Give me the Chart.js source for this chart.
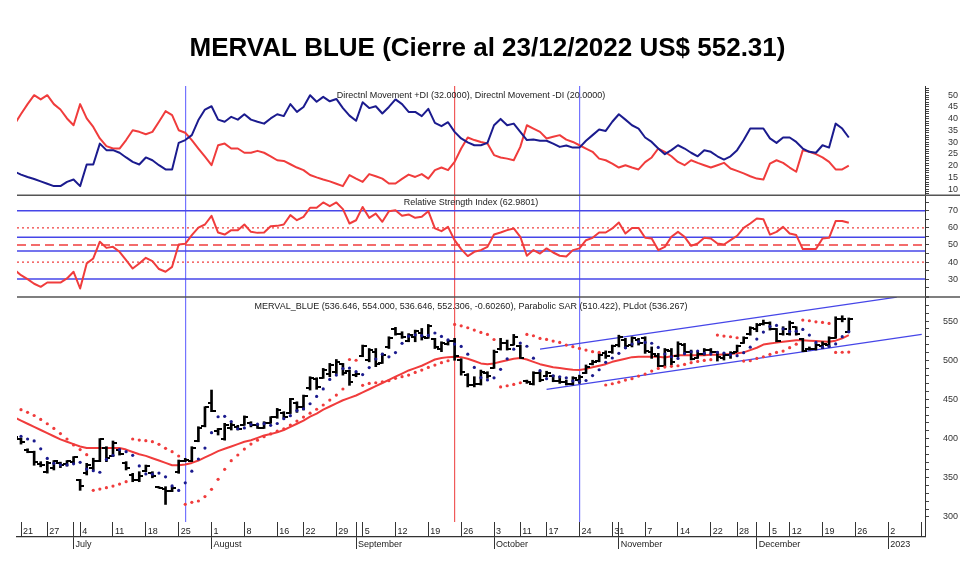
<!DOCTYPE html>
<html><head><meta charset="utf-8">
<script src="https://cdn.jsdelivr.net/npm/chart.js@4.4.1/dist/chart.umd.min.js"></script>
<style>html,body{margin:0;padding:0;background:#fff;}canvas{display:block;}</style>
</head><body>
<canvas id="c" width="980" height="562"></canvas>
<script>
// ---------- DATA (trading days, index 0 = 2022-06-16) ----------
const dates = ['2022-06-16','2022-06-21','2022-06-22','2022-06-23','2022-06-24','2022-06-27','2022-06-28','2022-06-29','2022-06-30','2022-07-01',
'2022-07-04','2022-07-05','2022-07-06','2022-07-07','2022-07-08','2022-07-11','2022-07-12','2022-07-13','2022-07-14','2022-07-15',
'2022-07-18','2022-07-19','2022-07-20','2022-07-21','2022-07-22','2022-07-25','2022-07-26','2022-07-27','2022-07-28','2022-07-29',
'2022-08-01','2022-08-02','2022-08-03','2022-08-04','2022-08-05','2022-08-08','2022-08-09','2022-08-10','2022-08-11','2022-08-12',
'2022-08-16','2022-08-17','2022-08-18','2022-08-19','2022-08-22','2022-08-23','2022-08-24','2022-08-25','2022-08-26','2022-08-29',
'2022-08-30','2022-08-31','2022-09-01','2022-09-05','2022-09-06','2022-09-07','2022-09-08','2022-09-09','2022-09-12','2022-09-13',
'2022-09-14','2022-09-15','2022-09-16','2022-09-19','2022-09-20','2022-09-21','2022-09-22','2022-09-23','2022-09-26','2022-09-27',
'2022-09-28','2022-09-29','2022-09-30','2022-10-03','2022-10-04','2022-10-05','2022-10-06','2022-10-11','2022-10-12','2022-10-13',
'2022-10-14','2022-10-17','2022-10-18','2022-10-19','2022-10-20','2022-10-21','2022-10-24','2022-10-25','2022-10-26','2022-10-27',
'2022-10-28','2022-10-31','2022-11-01','2022-11-02','2022-11-03','2022-11-04','2022-11-07','2022-11-08','2022-11-09','2022-11-10',
'2022-11-11','2022-11-14','2022-11-15','2022-11-16','2022-11-17','2022-11-18','2022-11-22','2022-11-23','2022-11-24','2022-11-25',
'2022-11-28','2022-11-29','2022-11-30','2022-12-01','2022-12-02','2022-12-05','2022-12-06','2022-12-07','2022-12-12','2022-12-13',
'2022-12-14','2022-12-15','2022-12-16','2022-12-19','2022-12-20','2022-12-21','2022-12-22','2022-12-23'];

const openP = [400,399,386,383,368,358,362,369,367,370, 347,356,362,372,388,378,385,369,354,347,
 359,356,338,336,333,357,372,372,397,416, 445,410,400,414,415,418,420,417,414,420,
 428,433,433,446,440,464,476,478,482,485, 495,486,481,506,500,510,497,517,540,533,
 525,530,535,529,527,514,521,525,500,481, 468,470,484,490,514,522,520,518,473,470,
 484,480,480,474,472,470,475,484,495,499, 509,510,519,526,519,526,528,510,505,493,
 512,506,520,510,503,508,513,510,503,507, 511,522,533,540,546,548,540,533,534,542,
 527,514,514,518,520,529,553,536.646];
const highP = [405,401,387,384,370.6,371,372,370,372,377, 348,368.5,375,400,389.7,397,386.7,370.6,355.7,357.8,
 366.3,357.8,338.7,338.7,338.7,372.7,374.8,389.7,415.2,440.7, 462,413,419.5,420,417,429,421.6,418,421.6,428,
 438.6,434.4,451.4,447,455.6,479,477.7,489.6,496,501, 496,487.5,484.5,519.4,515,515,509,530,542,536.4,
 534,538.5,540.6,545.7,528,523.6,526,528,502,483, 479,487.5,485.4,513,528,525.8,533,519.4,474.7,485.4,
 486,486,481,479,474.7,479,481,494,500,509, 512,519.4,532,528,530,528,530,517,508.8,515,
 515,523.6,521.5,513,511,515,515,511,508.8,511, 519.4,530,542.8,547,551.3,549,540.6,542.8,550,542.8,
 528,517,521.5,523.6,530,555.5,556.8,554];
const lowP = [397,393,382,366,364,356,360,363,365,368, 334,353.6,360,370.6,370.6,377,379,360,345,345,
 357.8,350,336.6,316,332.3,355.7,370.6,370.6,396,415, 434.4,404.6,398,411,411,417,415,413,413,419.5,
 426,426,432,433.5,436.5,462,463,476.9,479,483, 481,468,479,504.5,498,491.8,496,515,532,528,
 523.6,523.6,525.8,528,515,511,519.4,500,481,466, 466,468.4,476.9,489.6,513,513,519.4,502.4,470.5,468.4,
 472.6,479,472.6,470.5,468.4,468.4,470.5,483,494,498, 502.4,508.8,517,515,517,519.4,508.8,502.4,491.8,491.8,
 494,504.5,508.8,500.3,502.4,506.6,508.8,499,500.3,502.4, 510.9,521.5,532,536.4,545,538.5,523.6,532,532,532,
 510.9,513,513,515,517,528,549,536.646];
const closeP = [402,396,383,370,366,369,371,366,371,376, 340,366,371,399,375,395,381,362,347,352,
 365,352,337,333,337,371,373,388,413,440, 435,412,417,418,412,427,417,414,420,427,
 436,428,450,440,454,477,466,488,494,498, 484,472,483,518,513,495,507,529,534,530,
 532,537,530,544,517,522,524,505,485,468, 470,485,480,510,522,515,530,503,472,484,
 475,484,474,472,470,477,479,492,498,507, 505,518,530,518,528,522,512,508,493,513,
 498,521,511,502,508,513,510,504,507,509, 518,528,541,545,548,540,525,540,548,534,
 512,515,519,521,528,553,552.908,552.306];

const sarDots = [441,437,433.5,429.5,424.5,419,413,406.5,399.5,392, 386,379.5,334,335.6,337.4,339.5,342,345.1,399.5,398.2,
 397.4,396.1,392.7,387.6,383.3,377.8,316.2,318.7,320.4,326, 335.3,348,360.8,371.9,379.1,386.7,393,398,402.5,406,
 409.5,412.5,417.3,422.4,427.5,432.5,437.5,442.9,449.2,455.6, 463.3,501,500,468,470.5,471.3,472.6,473.9,476.9,479,
 481.1,484.5,487.5,490.9,493.9,496.9,499.4,545.7,544,541.5, 538.5,535.5,533,526.5,466,467.5,469.2,471.3,533,531.3,
 527.9,526.6,524.5,522.8,519.4,517.3,515.1,513,510.9,510, 468.4,470,472,474.7,476.5,479.8,482.4,486.2,489.6,491.3,
 492.2,493,494.7,496.9,498.5,499.8,500.7,532.1,530.9,530, 528.7,499,499.4,502.4,504.5,507.5,510,511.7,516,520.5,
 551.3,550.4,549.1,548.3,547,510,510.2,510.422];
const plDots = [406,403,399.5,397,387,374.7,368.5,366.6,366.4,367.8, 369.8,361.2,359,357.1,373.5,378.7,386,383.4,378.7,365.2,
 355,354.6,356,351.2,339.6,333.9,343.6,358.4,374,387.9, 407.6,427.9,428.5,421.7,412.6,413.7,418,418.5,419.1,417,
 419.3,425.5,429.3,435.8,438.1,444.5,453.9,463.4,475.5,481.1, 489.4,490.1,485.5,481.7,490.7,501.6,507.8,504.4,509.8,521.6,
 530.7,532.5,531.5,531.7,534.8,530.4,526,520.7,517.7,507.8, 490.9,477.8,474.8,477.6,488.4,501.8,514.1,521.9,517.9,502.7,
 486.7,476.5,480.1,478.9,477.6,473.6,473.2,474.2,480.4,487.9, 497.4,502.9,508.9,515.9,520.7,523.9,522.8,521.7,516.4,508,
 504.5,502.3,508.4,510.8,511.8,508.7,507.9,510,509.2,507.1, 505.9,509.7,516.7,527.1,536,543.2,544.5,540.1,536.8,537.1,
 539.3,532.2,522.8,516.6,517.6,520.9,530.1,536.267];
const avgLine = [427,423,419,415,411,407,403,399,396,393, 390,388,388,388,388,388,388,386,383,380,
 378,375,372,369,366,366,367,369,372,376, 380,384,387,390,393,396,398,401,404,406,
 408,411,415,419,423,428,432,437,441,445, 449,452,455,459,463,467,471,475,479,483,
 487,490,493,497,501,503,504,504.5,504,502, 499,496,495,496,498,500,502,503,501,498,
 495,493,491,490,489,488,487.5,489,491,493, 495,498,500,502,504,504.5,504.5,504.5,504.5,503.5,
 505,506.5,506.5,506.5,506.5,506.5,507,507,507.5,508, 509,510,513,516,520,521.5,522.5,523.5,524.5,525.5,
 525.5,525,524.5,524,523.5,525,528,532];

const plusDI = [17.5,16.2,15.2,14.3,13.3,12.3,11.3,11.3,13.1,14.1, 11.3,20.5,20.5,29.4,26.6,26.6,25.5,23.5,21.6,20.5,
 23.5,22.3,20.2,18.4,18.4,29.7,30.9,33,39.4,43.9, 45.3,39.6,38.7,40.8,39.6,41.9,39.6,38.7,37.9,40.1,
 41.9,41.1,46.2,42.9,45,50,47.2,49.3,47.4,48.4, 44.5,41.3,39.1,47,44.5,45.3,42.2,45,48.2,46.2,
 42.9,42.9,41.1,44.2,38.2,36.8,38.5,34.4,31.6,29.9, 28.7,28.7,29.7,37.2,39.9,37.2,37.9,34.4,30.9,31.1,
 30.6,30.6,29.4,28,28.6,27.7,27.7,30.6,33,35.4, 34.8,38.7,41.9,39.6,37.2,35.8,32,30.1,27.3,24.9,
 26.6,28.7,27.3,25.5,24,26.6,25.9,24,22.6,24, 26.6,30.9,35.8,35.8,35.8,31.6,29.7,32,32,30.1,
 27.3,25.9,25.5,28.7,27.7,37.9,35.8,32];
const minusDI = [37.5,42,46.2,50,48.2,50,46.2,43.9,40.1,37.2, 46.2,40.1,36.5,31.6,28.3,27.3,27.3,30.9,35.1,34.4,
 33.4,34.4,38.7,43.2,41.5,35.1,34,30.9,27.3,23.8, 20.2,28.7,29.4,27.3,27.3,25.5,25.5,26.3,25.5,24,
 22.3,22,20.6,19.2,18.1,16,15,14.1,13.3,12.3, 11.3,16,14.5,13.1,16.4,15.5,14.5,12.4,12.4,14.4,
 16.2,15.2,16.4,14.5,18.1,19.2,18.1,21.6,27.3,32, 30.9,30.1,29.4,24.5,23.5,23,22.3,28,37.2,35.8,
 34.4,31.6,32.3,33,31.1,30.1,28.7,27.3,25.9,23, 22.3,20.9,19.2,20.2,19.2,18.4,21.5,23.5,27.3,25.9,
 24,21.6,20.2,22.3,21.2,20.2,19.2,20.2,21.2,18.8, 17.8,16.7,15.5,14.5,14.1,20.9,22.3,21.2,19.2,17.4,
 26.6,25.9,24.9,23.5,21.6,18.4,18.4,20];
const rsiVals = [35.5,32.3,30,27.3,25.5,28,28,28,30.4,34.3, 24.5,39.2,42.1,51.9,48.3,48.9,46,41.1,36.2,39.2,
 42.5,40.5,35.9,34.3,37.2,50.3,50.7,55.8,60.2,62, 67.1,57.3,56.1,58.7,58.7,62,57.7,57.1,57.3,61,
 61.2,62,67.5,64.5,66.5,71.8,71.8,74.9,72.7,74.9, 71,62.6,64.5,72.3,65.9,68.4,63.6,69.8,70.4,67.1,
 67.9,65.9,66.5,69.8,59.7,58.1,60.6,52.8,47.6,43.5, 46,47,48.9,56.1,57.3,58.7,59.7,54.8,43.7,47,
 45,48,45.6,43.7,43.3,47,48,52.8,54.2,57.3, 57.3,59.7,63.2,56.7,60,60,54.2,53.8,47,48.9,
 54.8,57.7,54.8,49.5,50.9,54.2,53.8,50.9,50.3,52.8, 55.4,60,62.6,65.5,65.1,56.1,57.7,60.6,56.7,55.8,
 47.6,47.6,47.6,53.8,54.2,64,64,62.98];

const rsiBlueLevels = [70, 54.5, 46.5, 30];
const rsiDottedLevels = [60, 40];
const rsiDashedLevels = [50];
const upperChannel = [{x:80, y:514.3}, {x:134.3, y:580.6}];
const lowerChannel = [{x:81, y:462.9}, {x:138.1, y:533.0}];

const dayTickIdx    = [1,5,9,10,15,20,25,30,35,40,44,49,52,53,58,63,68,73,77,81,86,91,92,96,101,106,110,113,115,118,123,128,133,138];
const dayTickLabels = ['21','27','','4','11','18','25','1','8','16','22','29','','5','12','19','26','3','11','17','24','31','','7','14','22','28','','5','12','19','26','2',''];
const monthTickIdx    = [9,30,52,73,92,113,133];
const monthTickLabels = ['July','August','September','October','November','December','2023'];
const markerIdx = [26, 67, 86];

const titleText   = 'MERVAL BLUE (Cierre al 23/12/2022 US$ 552.31)';
const dmiLegend   = 'Directnl Movement +DI (32.0000), Directnl Movement -DI (20.0000)';
const rsiLegend   = 'Relative Strength Index (62.9801)';
const priceLegend = 'MERVAL_BLUE (536.646, 554.000, 536.646, 552.306, -0.60260), Parabolic SAR (510.422), PLdot (536.267)';

// ---------- STYLE / LAYOUT ----------
const X_MIN = 0.39, X_MAX = 138.6;
const FONT = "'Liberation Sans', Arial, sans-serif";
const NAVY = '#1b1b8e', RED = '#f03c3c', BLUEL = '#4646e8', MARK = ['#7474ff', '#f05a5a', '#7474ff'];
const pts = a => a.map((v, i) => ({x: i, y: v}));
const hline = v => [{x: X_MIN, y: v}, {x: X_MAX, y: v}];
function tickImg(left) {
  const c = document.createElement('canvas'); c.width = 8; c.height = 2;
  const g = c.getContext('2d'); g.fillStyle = '#000'; g.fillRect(left ? 0 : 4, 0, 4, 2); return c;
}
function range(a, b, s) { const r = []; for (let v = a; v <= b + 1e-9; v += s) r.push({value: Math.round(v * 100) / 100}); return r; }

const datasets = [];
datasets.push({type:'line', data: pts(plusDI), yAxisID:'yDmi', borderColor: NAVY, borderWidth: 2, pointRadius: 0, order: 1});
datasets.push({type:'line', data: pts(minusDI), yAxisID:'yDmi', borderColor: RED, borderWidth: 2, pointRadius: 0, order: 1});
rsiBlueLevels.forEach(v => datasets.push({type:'line', data: hline(v), yAxisID:'yRsi', borderColor: BLUEL, borderWidth: 1.5, pointRadius: 0, order: 6}));
rsiDottedLevels.forEach(v => datasets.push({type:'line', data: hline(v), yAxisID:'yRsi', borderColor: RED, borderWidth: 1.3, borderDash:[2,3], pointRadius: 0, order: 6}));
rsiDashedLevels.forEach(v => datasets.push({type:'line', data: hline(v), yAxisID:'yRsi', borderColor: RED, borderWidth: 1.3, borderDash:[9,5], pointRadius: 0, order: 6}));
datasets.push({type:'line', data: pts(rsiVals), yAxisID:'yRsi', borderColor: RED, borderWidth: 2, pointRadius: 0, order: 1});
datasets.push({type:'line', data: upperChannel, yAxisID:'yPrice', borderColor: BLUEL, borderWidth: 1.2, pointRadius: 0, order: 5});
datasets.push({type:'line', data: lowerChannel, yAxisID:'yPrice', borderColor: BLUEL, borderWidth: 1.2, pointRadius: 0, order: 5});
datasets.push({type:'line', data: pts(avgLine), yAxisID:'yPrice', borderColor: RED, borderWidth: 2, pointRadius: 0, order: 4});
datasets.push({type:'bar', data: highP.map((h, i) => ({x: i, y: [lowP[i], h]})), yAxisID:'yPrice', backgroundColor:'#000', barThickness: 2, order: 3});
datasets.push({type:'line', data: pts(openP), yAxisID:'yPrice', showLine:false, pointStyle: tickImg(true), pointRadius: 3, order: 2});
datasets.push({type:'line', data: pts(closeP), yAxisID:'yPrice', showLine:false, pointStyle: tickImg(false), pointRadius: 3, order: 2});
datasets.push({type:'line', data: pts(sarDots), yAxisID:'yPrice', showLine:false, pointRadius: 1.6, pointBorderWidth: 0, pointBackgroundColor: RED, order: 0});
datasets.push({type:'line', data: pts(plDots), yAxisID:'yPrice', showLine:false, pointRadius: 1.6, pointBorderWidth: 0, pointBackgroundColor: NAVY, order: 0});

const tickFont = {family: FONT, size: 9};
function yAxis(min, max, weight, step, lo, hi, labelStep, firstLabel) {
  return {
    type:'linear', position:'right', stack:'panels', stackWeight: weight, min, max, offset:false,
    afterBuildTicks: s => { s.ticks = range(lo, hi, step); },
    afterFit: s => { s.width = 33; },
    ticks: {autoSkip:false, font: tickFont, color:'#333', crossAlign:'far', padding: 4,
            callback: v => (v >= firstLabel && Math.abs(v / labelStep - Math.round(v / labelStep)) < 1e-6) ? String(v) : ''},
    grid: {drawOnChartArea:false, drawTicks:true, tickLength:4, color:'#444', lineWidth:1},
    border: {display:true, color:'#333', width:1}
  };
}

const deco = {
  id:'deco',
  afterDraw(chart) {
    const {ctx, chartArea, scales} = chart;
    ctx.save();
    ctx.strokeStyle = '#555'; ctx.lineWidth = 1.5;
    [scales.yRsi.top, scales.yPrice.top].forEach(y => {
      ctx.beginPath(); ctx.moveTo(chartArea.left, y); ctx.lineTo(960, y); ctx.stroke();
    });
    ctx.lineWidth = 1; ctx.strokeStyle = '#333';
    ctx.beginPath(); ctx.moveTo(chartArea.right + 0.5, chartArea.bottom); ctx.lineTo(chartArea.right + 0.5, scales.xMonth.top); ctx.stroke();
    ctx.fillStyle = '#222'; ctx.font = '9px ' + FONT; ctx.textAlign = 'center'; ctx.textBaseline = 'middle';
    const cx = (chartArea.left + chartArea.right) / 2;
    ctx.fillText(dmiLegend, cx, scales.yDmi.top + 9);
    ctx.fillText(rsiLegend, cx, scales.yRsi.top + 7.5);
    ctx.fillText(priceLegend, cx, scales.yPrice.top + 9);
    ctx.restore();
  }
};

new Chart(document.getElementById('c'), {
  type:'line',
  data:{datasets},
  plugins:[deco],
  options:{
    responsive:false, animation:false, devicePixelRatio:1,
    layout:{padding:{left:17, right:22, top:0, bottom:0}},
    elements:{line:{tension:0, borderJoinStyle:'round'}},
    plugins:{
      legend:{display:false}, tooltip:{enabled:false},
      title:{display:true, text:titleText, color:'#000', font:{family:FONT, size:26, weight:'bold'}, padding:{top:33, bottom:22}}
    },
    scales:{
      x:{type:'linear', position:'bottom', min:X_MIN, max:X_MAX, offset:false,
         afterBuildTicks: s => { s.ticks = dayTickIdx.map(v => ({value: v})); },
         afterFit: s => { s.height = 15; },
         ticks:{autoSkip:false, maxRotation:0, minRotation:0, align:'start', labelOffset:2, padding:-10, font:tickFont, color:'#222',
                callback:(v, i) => dayTickLabels[i]},
         grid:{drawOnChartArea:false, drawTicks:true, tickLength:14, color:'#333', lineWidth:1, offset:false},
         border:{display:false}},
      xMonth:{type:'linear', position:'bottom', min:X_MIN, max:X_MAX, offset:false,
         afterBuildTicks: s => { s.ticks = monthTickIdx.map(v => ({value: v})); },
         afterFit: s => { s.height = 25; },
         ticks:{autoSkip:false, maxRotation:0, minRotation:0, align:'start', labelOffset:2, padding:-10, font:tickFont, color:'#222',
                callback:(v, i) => monthTickLabels[i]},
         grid:{drawOnChartArea:false, drawTicks:true, tickLength:12, color:'#333', lineWidth:1, offset:false},
         border:{display:true, color:'#333', width:1.2}},
      xMark:{type:'linear', position:'top', min:X_MIN, max:X_MAX, offset:false,
         afterBuildTicks: s => { s.ticks = markerIdx.map(v => ({value: v})); },
         afterFit: s => { s.height = 0; },
         ticks:{display:false},
         grid:{drawOnChartArea:true, drawTicks:false, color: c => MARK[c.index] || '#00f', lineWidth:1.2, offset:false},
         border:{display:false}},
      yDmi: yAxis(7.45, 53.83, 109, 1, 8, 53, 5, 10),
      yRsi: yAxis(19.46, 79.2, 102, 5, 20, 75, 10, 30),
      yPrice: yAxis(293.6, 580.6, 225, 10, 300, 580, 50, 300)
    }
  }
});
</script>
</body></html>
